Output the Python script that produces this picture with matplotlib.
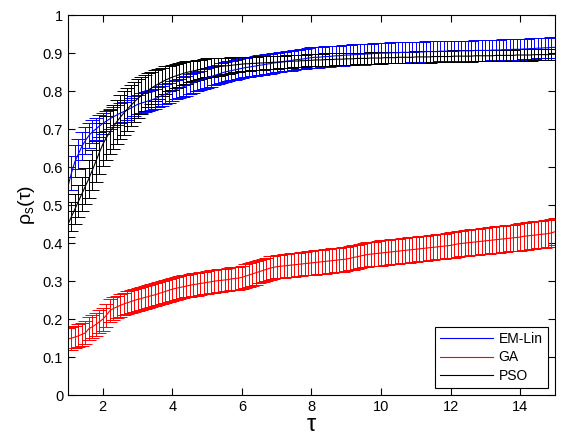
import matplotlib
matplotlib.use("Agg")
import matplotlib.pyplot as plt
from matplotlib.lines import Line2D

plt.rcParams['font.family'] = ['Liberation Sans', 'DejaVu Sans']

# tau grid (1 to 15, step 0.1)
tau = [1.0, 1.1, 1.2, 1.3, 1.4, 1.5, 1.6, 1.7, 1.8, 1.9,
       2.0, 2.1, 2.2, 2.3, 2.4, 2.5, 2.6, 2.7, 2.8, 2.9,
       3.0, 3.1, 3.2, 3.3, 3.4, 3.5, 3.6, 3.7, 3.8, 3.9,
       4.0, 4.1, 4.2, 4.3, 4.4, 4.5, 4.6, 4.7, 4.8, 4.9,
       5.0, 5.1, 5.2, 5.3, 5.4, 5.5, 5.6, 5.7, 5.8, 5.9,
       6.0, 6.1, 6.2, 6.3, 6.4, 6.5, 6.6, 6.7, 6.8, 6.9,
       7.0, 7.1, 7.2, 7.3, 7.4, 7.5, 7.6, 7.7, 7.8, 7.9,
       8.0, 8.1, 8.2, 8.3, 8.4, 8.5, 8.6, 8.7, 8.8, 8.9,
       9.0, 9.1, 9.2, 9.3, 9.4, 9.5, 9.6, 9.7, 9.8, 9.9,
       10.0, 10.1, 10.2, 10.3, 10.4, 10.5, 10.6, 10.7, 10.8, 10.9,
       11.0, 11.1, 11.2, 11.3, 11.4, 11.5, 11.6, 11.7, 11.8, 11.9,
       12.0, 12.1, 12.2, 12.3, 12.4, 12.5, 12.6, 12.7, 12.8, 12.9,
       13.0, 13.1, 13.2, 13.3, 13.4, 13.5, 13.6, 13.7, 13.8, 13.9,
       14.0, 14.1, 14.2, 14.3, 14.4, 14.5, 14.6, 14.7, 14.8, 14.9,
       15.0]

# EM-Lin
emlin_mean = [0.550, 0.585, 0.615, 0.635, 0.655, 0.670, 0.683, 0.693, 0.700, 0.708,
              0.715, 0.721, 0.727, 0.732, 0.737, 0.742, 0.746, 0.750, 0.755, 0.760,
              0.765, 0.768, 0.771, 0.774, 0.777, 0.780, 0.784, 0.788, 0.792, 0.796,
              0.800, 0.804, 0.807, 0.811, 0.814, 0.818, 0.821, 0.825, 0.828, 0.832,
              0.835, 0.838, 0.841, 0.844, 0.847, 0.850, 0.852, 0.854, 0.856, 0.858,
              0.860, 0.862, 0.863, 0.865, 0.866, 0.868, 0.869, 0.871, 0.872, 0.874,
              0.875, 0.876, 0.878, 0.879, 0.880, 0.882, 0.883, 0.884, 0.885, 0.887,
              0.888, 0.889, 0.889, 0.890, 0.891, 0.891, 0.892, 0.893, 0.893, 0.894,
              0.895, 0.895, 0.896, 0.896, 0.897, 0.897, 0.898, 0.898, 0.899, 0.899,
              0.900, 0.900, 0.900, 0.901, 0.901, 0.901, 0.902, 0.902, 0.902, 0.903,
              0.903, 0.903, 0.903, 0.904, 0.904, 0.904, 0.904, 0.905, 0.905, 0.905,
              0.905, 0.905, 0.905, 0.906, 0.906, 0.906, 0.906, 0.907, 0.907, 0.907,
              0.907, 0.907, 0.908, 0.908, 0.908, 0.909, 0.909, 0.909, 0.910, 0.910,
              0.910, 0.911, 0.911, 0.912, 0.912, 0.913, 0.913, 0.914, 0.914, 0.915,
              0.915]
emlin_err = [0.050, 0.045, 0.042, 0.040, 0.037, 0.035, 0.032, 0.030, 0.029, 0.028,
             0.027, 0.027, 0.026, 0.026, 0.026, 0.026, 0.026, 0.026, 0.026, 0.026,
             0.026, 0.026, 0.026, 0.026, 0.026, 0.026, 0.026, 0.026, 0.026, 0.026,
             0.026, 0.026, 0.026, 0.026, 0.026, 0.026, 0.026, 0.026, 0.026, 0.026,
             0.026, 0.026, 0.026, 0.026, 0.026, 0.026, 0.026, 0.026, 0.026, 0.026,
             0.026, 0.026, 0.026, 0.026, 0.026, 0.026, 0.026, 0.026, 0.026, 0.026,
             0.026, 0.026, 0.026, 0.026, 0.026, 0.026, 0.026, 0.026, 0.026, 0.026,
             0.027, 0.027, 0.027, 0.027, 0.027, 0.027, 0.027, 0.027, 0.027, 0.027,
             0.027, 0.027, 0.027, 0.027, 0.027, 0.027, 0.027, 0.027, 0.027, 0.027,
             0.027, 0.027, 0.027, 0.027, 0.027, 0.027, 0.027, 0.027, 0.027, 0.027,
             0.027, 0.027, 0.027, 0.027, 0.027, 0.027, 0.027, 0.027, 0.027, 0.027,
             0.027, 0.027, 0.027, 0.027, 0.027, 0.027, 0.027, 0.027, 0.027, 0.027,
             0.027, 0.027, 0.027, 0.027, 0.027, 0.027, 0.027, 0.027, 0.027, 0.027,
             0.027, 0.027, 0.027, 0.027, 0.027, 0.027, 0.027, 0.027, 0.027, 0.027,
             0.027]

# GA
ga_mean = [0.148, 0.150, 0.153, 0.156, 0.160, 0.164, 0.175, 0.180, 0.186, 0.193,
           0.200, 0.210, 0.222, 0.228, 0.232, 0.236, 0.240, 0.243, 0.246, 0.249,
           0.252, 0.254, 0.257, 0.259, 0.262, 0.264, 0.267, 0.270, 0.273, 0.276,
           0.279, 0.281, 0.283, 0.285, 0.287, 0.289, 0.291, 0.292, 0.294, 0.295,
           0.297, 0.298, 0.300, 0.301, 0.302, 0.303, 0.304, 0.306, 0.307, 0.308,
           0.310, 0.313, 0.316, 0.319, 0.322, 0.325, 0.328, 0.331, 0.334, 0.336,
           0.338, 0.339, 0.340, 0.341, 0.342, 0.343, 0.344, 0.345, 0.346, 0.347,
           0.348, 0.349, 0.350, 0.351, 0.352, 0.353, 0.354, 0.355, 0.356, 0.357,
           0.358, 0.360, 0.362, 0.364, 0.366, 0.368, 0.370, 0.371, 0.372, 0.373,
           0.374, 0.375, 0.376, 0.377, 0.378, 0.379, 0.380, 0.381, 0.382, 0.383,
           0.384, 0.385, 0.386, 0.387, 0.388, 0.389, 0.390, 0.391, 0.392, 0.393,
           0.394, 0.396, 0.398, 0.399, 0.400, 0.401, 0.402, 0.403, 0.404, 0.405,
           0.406, 0.407, 0.408, 0.409, 0.410, 0.411, 0.412, 0.413, 0.414, 0.415,
           0.416, 0.418, 0.419, 0.420, 0.421, 0.422, 0.423, 0.424, 0.425, 0.427,
           0.430]
ga_err = [0.030, 0.030, 0.030, 0.030, 0.030, 0.030, 0.030, 0.030, 0.030, 0.030,
          0.030, 0.030, 0.030, 0.030, 0.030, 0.030, 0.030, 0.030, 0.030, 0.030,
          0.030, 0.030, 0.030, 0.030, 0.030, 0.030, 0.030, 0.030, 0.030, 0.030,
          0.030, 0.030, 0.030, 0.030, 0.030, 0.030, 0.030, 0.030, 0.030, 0.030,
          0.030, 0.030, 0.030, 0.030, 0.030, 0.030, 0.030, 0.030, 0.030, 0.030,
          0.031, 0.031, 0.031, 0.031, 0.031, 0.031, 0.031, 0.031, 0.031, 0.031,
          0.031, 0.031, 0.031, 0.031, 0.031, 0.031, 0.031, 0.031, 0.031, 0.031,
          0.032, 0.032, 0.032, 0.032, 0.032, 0.032, 0.032, 0.032, 0.032, 0.032,
          0.032, 0.032, 0.032, 0.032, 0.032, 0.032, 0.032, 0.032, 0.032, 0.032,
          0.033, 0.033, 0.033, 0.033, 0.033, 0.033, 0.033, 0.033, 0.033, 0.033,
          0.033, 0.033, 0.033, 0.033, 0.033, 0.033, 0.033, 0.033, 0.033, 0.033,
          0.034, 0.034, 0.034, 0.034, 0.034, 0.034, 0.034, 0.034, 0.034, 0.034,
          0.035, 0.035, 0.035, 0.035, 0.035, 0.035, 0.035, 0.035, 0.035, 0.035,
          0.036, 0.036, 0.036, 0.036, 0.036, 0.036, 0.036, 0.036, 0.036, 0.036,
          0.036]

# PSO
pso_mean = [0.450, 0.470, 0.490, 0.510, 0.530, 0.550, 0.570, 0.592, 0.615, 0.638,
            0.660, 0.677, 0.692, 0.706, 0.719, 0.731, 0.742, 0.752, 0.762, 0.771,
            0.780, 0.788, 0.795, 0.802, 0.808, 0.814, 0.819, 0.824, 0.829, 0.833,
            0.837, 0.840, 0.843, 0.846, 0.849, 0.851, 0.853, 0.855, 0.857, 0.859,
            0.861, 0.862, 0.863, 0.864, 0.865, 0.866, 0.867, 0.868, 0.869, 0.870,
            0.871, 0.872, 0.872, 0.873, 0.873, 0.874, 0.874, 0.875, 0.875, 0.876,
            0.876, 0.877, 0.877, 0.878, 0.878, 0.879, 0.879, 0.880, 0.880, 0.881,
            0.881, 0.882, 0.882, 0.882, 0.883, 0.883, 0.883, 0.884, 0.884, 0.884,
            0.885, 0.885, 0.885, 0.886, 0.886, 0.886, 0.886, 0.887, 0.887, 0.887,
            0.887, 0.888, 0.888, 0.888, 0.888, 0.889, 0.889, 0.889, 0.889, 0.889,
            0.890, 0.890, 0.890, 0.890, 0.890, 0.891, 0.891, 0.891, 0.891, 0.891,
            0.891, 0.892, 0.892, 0.892, 0.892, 0.892, 0.892, 0.893, 0.893, 0.893,
            0.893, 0.893, 0.893, 0.894, 0.894, 0.894, 0.894, 0.894, 0.894, 0.895,
            0.895, 0.895, 0.895, 0.895, 0.896, 0.896, 0.896, 0.896, 0.896, 0.897,
            0.897]
pso_err = [0.035, 0.038, 0.040, 0.042, 0.045, 0.048, 0.050, 0.052, 0.054, 0.055,
           0.056, 0.057, 0.058, 0.058, 0.058, 0.058, 0.057, 0.056, 0.055, 0.053,
           0.051, 0.049, 0.047, 0.045, 0.043, 0.041, 0.039, 0.037, 0.036, 0.034,
           0.033, 0.032, 0.031, 0.030, 0.029, 0.028, 0.027, 0.027, 0.026, 0.025,
           0.025, 0.024, 0.023, 0.023, 0.022, 0.022, 0.021, 0.021, 0.020, 0.020,
           0.019, 0.019, 0.019, 0.018, 0.018, 0.018, 0.018, 0.017, 0.017, 0.017,
           0.017, 0.016, 0.016, 0.016, 0.016, 0.016, 0.016, 0.016, 0.016, 0.016,
           0.016, 0.016, 0.016, 0.016, 0.016, 0.016, 0.016, 0.016, 0.016, 0.016,
           0.015, 0.015, 0.015, 0.015, 0.015, 0.015, 0.015, 0.015, 0.015, 0.015,
           0.015, 0.015, 0.015, 0.015, 0.015, 0.015, 0.015, 0.015, 0.015, 0.015,
           0.015, 0.015, 0.015, 0.015, 0.015, 0.015, 0.015, 0.015, 0.015, 0.015,
           0.015, 0.015, 0.015, 0.015, 0.015, 0.015, 0.015, 0.015, 0.015, 0.015,
           0.015, 0.015, 0.015, 0.015, 0.015, 0.015, 0.015, 0.015, 0.015, 0.015,
           0.015, 0.015, 0.015, 0.015, 0.015, 0.015, 0.015, 0.015, 0.015, 0.015,
           0.015]

series_names = ['EM-Lin', 'GA', 'PSO']
series_colors = ['#0000ff', '#ff0000', '#000000']

yticks = [0, 0.1, 0.2, 0.3, 0.4, 0.5, 0.6, 0.7, 0.8, 0.9, 1]
ytick_labels = ['0', '0.1', '0.2', '0.3', '0.4', '0.5', '0.6', '0.7', '0.8', '0.9', '1']
xticks = [2, 4, 6, 8, 10, 12, 14]

fig = plt.figure(figsize=(5.64, 4.44), dpi=100)
ax = fig.add_axes([0.1206, 0.110, 0.8634, 0.856])

# draw order: blue, red, black on top
for m, e, c in [(emlin_mean, emlin_err, series_colors[0]),
                (ga_mean, ga_err, series_colors[1]),
                (pso_mean, pso_err, series_colors[2])]:
    ax.errorbar(tau, m, yerr=e, color=c, ecolor=c, lw=0.8, elinewidth=0.7,
                capsize=5, capthick=0.7)

ax.set_xlim(1, 15)
ax.set_ylim(0, 1)
ax.set_xticks(xticks)
ax.set_yticks(yticks)
ax.set_yticklabels(ytick_labels)
ax.tick_params(direction='in', length=5, width=0.8, top=True, right=True,
               labelsize=10.5)
for s in ax.spines.values():
    s.set_linewidth(0.8)

ax.set_xlabel('τ', fontsize=17, labelpad=0)
ax.set_ylabel(r'ρ$_\mathregular{s}$(τ)', fontsize=14, labelpad=4)

handles = [Line2D([], [], color=c, lw=0.8) for c in series_colors]
leg = ax.legend(handles, series_names, loc='lower right', fancybox=False,
                edgecolor='black', framealpha=1, fontsize=10, handlelength=3.8,
                borderaxespad=0.5, labelspacing=0.3, handletextpad=0.4,
                borderpad=0.4)
leg.get_frame().set_linewidth(0.8)

fig.savefig('out.png', dpi=100)
